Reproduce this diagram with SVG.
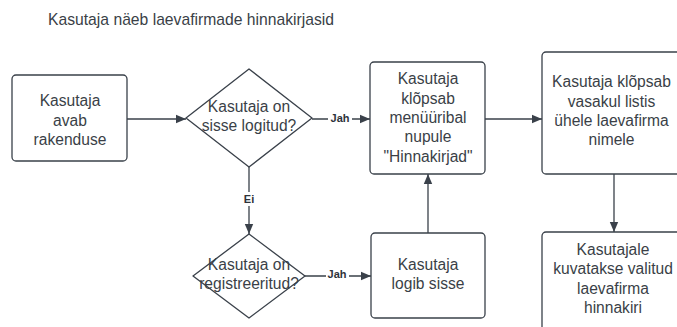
<svg xmlns="http://www.w3.org/2000/svg" width="677" height="327" viewBox="0 0 677 327">
  <defs>
    <marker id="arrow" viewBox="0 0 10 10" refX="10" refY="5" markerWidth="10" markerHeight="10" markerUnits="userSpaceOnUse" orient="auto">
      <path d="M0,0.8 L10,5 L0,9.2 Z" fill="#3a414a"/>
    </marker>
  </defs>
  <style>
    .shape { fill: #ffffff; stroke: #3a414a; stroke-width: 1.3; }
    .txt { font-family: "Liberation Sans", Arial, sans-serif; font-size: 15.6px; fill: #3a3f47; text-anchor: middle; }
    .lbl { font-family: "Liberation Sans", Arial, sans-serif; font-size: 11px; font-weight: bold; fill: #2e333a; text-anchor: middle; }
    .edge { fill: none; stroke: #3a414a; stroke-width: 1.3; }
  </style>
  <rect width="677" height="327" fill="#ffffff"/>

  <text x="48" y="25" style="font-family: 'Liberation Sans', Arial, sans-serif; font-size: 15.7px; fill: #3a3f47;">Kasutaja näeb laevafirmade hinnakirjasid</text>

  <g id="connectors">
    <path class="edge" d="M127,119 L186,119" marker-end="url(#arrow)"/>
    <path class="edge" d="M312,119 L328,119 M352,119 L370,119" marker-end="url(#arrow)"/>
    <path class="edge" d="M485,119 L542,119" marker-end="url(#arrow)"/>
    <path class="edge" d="M614,174 L614,232" marker-end="url(#arrow)"/>
    <path class="edge" d="M249,167 L249,192 M249,206 L249,234" marker-end="url(#arrow)"/>
    <path class="edge" d="M305,276 L326,276 M349,276 L371,276" marker-end="url(#arrow)"/>
    <path class="edge" d="M428,233 L428,174" marker-end="url(#arrow)"/>
    <text class="lbl" x="340" y="122">Jah</text>
    <text class="lbl" x="249" y="203">Ei</text>
    <text class="lbl" x="337" y="278">Jah</text>
  </g>

  <g id="start">
    <rect class="shape" x="12" y="75" width="115" height="86" rx="4"/>
    <text class="txt" x="70" y="106">Kasutaja</text>
    <text class="txt" x="70" y="125.5">avab</text>
    <text class="txt" x="70" y="145">rakenduse</text>
  </g>

  <g id="logged-in">
    <path class="shape" d="M249,69 L312,118 L249,167 L186,118 Z" stroke-linejoin="round"/>
    <text class="txt" x="249" y="112">Kasutaja on</text>
    <text class="txt" x="249" y="131">sisse logitud?</text>
  </g>

  <g id="menu-click">
    <rect class="shape" x="370" y="62" width="115" height="112" rx="4"/>
    <text class="txt" x="428" y="84.3">Kasutaja</text>
    <text class="txt" x="428" y="103.6">klõpsab</text>
    <text class="txt" x="428" y="122.9">menüüribal</text>
    <text class="txt" x="428" y="142.2">nupule</text>
    <text class="txt" x="428" y="161.5">"Hinnakirjad"</text>
  </g>

  <g id="list-click">
    <rect class="shape" x="542" y="52" width="141" height="122" rx="4"/>
    <text class="txt" x="611.5" y="87.3">Kasutaja klõpsab</text>
    <text class="txt" x="611.5" y="106.6">vasakul listis</text>
    <text class="txt" x="611.5" y="125.9">ühele laevafirma</text>
    <text class="txt" x="611.5" y="145.2">nimele</text>
  </g>

  <g id="price-list">
    <rect class="shape" x="542" y="232" width="141" height="110" rx="4"/>
    <text class="txt" x="613" y="255">Kasutajale</text>
    <text class="txt" x="613" y="274.3">kuvatakse valitud</text>
    <text class="txt" x="613" y="293.6">laevafirma</text>
    <text class="txt" x="613" y="312.9">hinnakiri</text>
  </g>

  <g id="registered">
    <path class="shape" d="M249,234 L305,276 L249,318 L193,276 Z" stroke-linejoin="round"/>
    <text class="txt" x="249" y="270">Kasutaja on</text>
    <text class="txt" x="249" y="289">registreeritud?</text>
  </g>

  <g id="login">
    <rect class="shape" x="371" y="233" width="114" height="85" rx="4"/>
    <text class="txt" x="428" y="269.5">Kasutaja</text>
    <text class="txt" x="428" y="288.8">logib sisse</text>
  </g>
</svg>
